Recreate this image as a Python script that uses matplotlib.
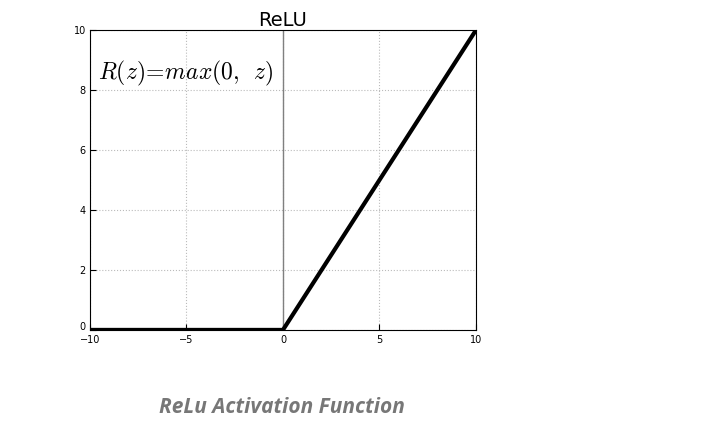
import numpy as np
import matplotlib.pyplot as plt
import matplotlib.transforms as mtransforms

# ReLU sample points
z = [-10, 0, 10]
relu = [0, 0, 10]
xticks = [-10, -5, 0, 5, 10]
yticks = [0, 2, 4, 6, 8, 10]

plt.rcParams['mathtext.fontset'] = 'cm'

fig = plt.figure(figsize=(7.2, 4.37), dpi=100)
ax = fig.add_axes([0.125, 0.245, 0.536, 0.686])

ax.axvline(0, color='gray', linewidth=1)
ax.plot(z, relu, color='black', linewidth=3)

ax.set_xlim(-10, 10)
ax.set_ylim(0, 10)
ax.set_xticks(xticks)
ax.set_yticks(yticks)
ax.tick_params(direction='in', labelsize=7, length=4)
ax.tick_params(axis='x', pad=4)
ax.tick_params(axis='y', pad=3)
for lbl in ax.get_yticklabels():
    lbl.set_verticalalignment('center_baseline')
# lift the bottom y label a little so it clears the -10 label
lift = mtransforms.ScaledTranslation(0, 2.5 / 72, fig.dpi_scale_trans)
lbl0 = ax.get_yticklabels()[0]
lbl0.set_transform(lbl0.get_transform() + lift)
ax.grid(True, linestyle=':', color='#bbbbbb', linewidth=0.8)
for s in ax.spines.values():
    s.set_linewidth(0.8)

ax.set_title('ReLU', fontsize=14, pad=1)
ax.text(-9.6, 8.35, r'$R(z)\!=\!max(0,\ \, z)$', fontsize=17)

fig.text(0.391, 0.068, 'ReLu Activation Function', ha='center', va='center',
         fontsize=15, fontfamily='Open Sans', fontweight='bold',
         fontstyle='italic', color='#777777')

plt.savefig('out.png')
